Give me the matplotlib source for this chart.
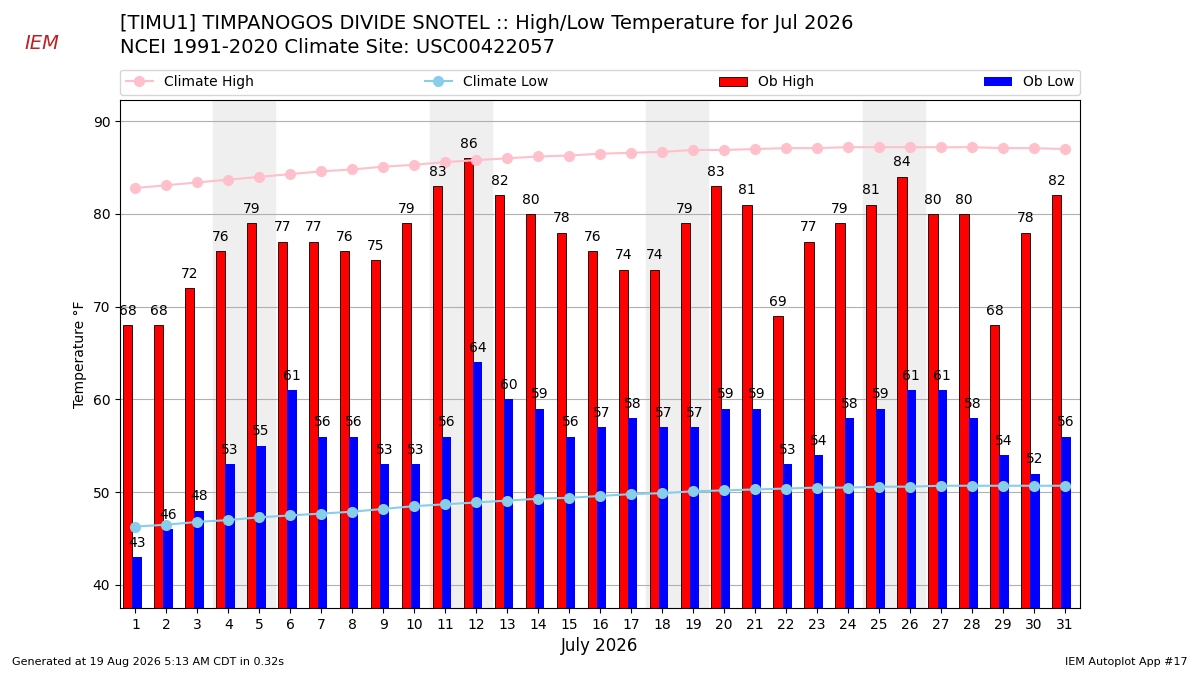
import matplotlib
matplotlib.use("Agg")
import matplotlib.pyplot as plt
import numpy as np

days = np.arange(1, 32)
ob_high = [68, 68, 72, 76, 79, 77, 77, 76, 75, 79, 83, 86, 82, 80, 78, 76, 74, 74, 79, 83, 81, 69, 77, 79, 81, 84, 80, 80, 68, 78, 82]
ob_low = [43, 46, 48, 53, 55, 61, 56, 56, 53, 53, 56, 64, 60, 59, 56, 57, 58, 57, 57, 59, 59, 53, 54, 58, 59, 61, 61, 58, 54, 52, 56]
clim_high = [82.8, 83.1, 83.4, 83.7, 84.0, 84.3, 84.6, 84.8, 85.1, 85.3, 85.6, 85.8, 86.0, 86.2, 86.3, 86.5,
             86.6, 86.7, 86.9, 86.9, 87.0, 87.1, 87.1, 87.2, 87.2, 87.2, 87.2, 87.2, 87.1, 87.1, 87.0]
clim_low = [46.3, 46.5, 46.8, 47.0, 47.3, 47.5, 47.7, 47.9, 48.2, 48.5, 48.7, 48.9, 49.1, 49.3, 49.4, 49.6,
            49.8, 49.9, 50.1, 50.2, 50.3, 50.4, 50.5, 50.5, 50.6, 50.6, 50.7, 50.7, 50.7, 50.7, 50.7]
weekends = [4, 11, 18, 25]

fig = plt.figure(figsize=(12, 6.75), dpi=100)
ax = fig.add_axes([0.1, 0.099, 0.8, 0.753])

for w in weekends:
    ax.axvspan(w - 0.5, w + 1.5, color="#efefef", zorder=0)

ax.bar(days - 0.4, ob_high, width=0.3, align="edge", color="red", edgecolor="black", linewidth=0.6, label="Ob High", zorder=2)
ax.bar(days - 0.1, ob_low, width=0.3, align="edge", color="blue", label="Ob Low", zorder=2)
for d, h, l in zip(days, ob_high, ob_low):
    ax.text(d - 0.25, h + 0.8, str(h), ha="center", va="bottom", fontsize=10, zorder=4)
    ax.text(d + 0.05, l + 0.8, str(l), ha="center", va="bottom", fontsize=10, zorder=4)

ax.plot(days, clim_high, "-o", color="pink", lw=1.5, ms=7, label="Climate High", zorder=3)
ax.plot(days, clim_low, "-o", color="skyblue", lw=1.5, ms=7, label="Climate Low", zorder=3)

ax.set_xlim(0.5, 31.5)
ax.set_ylim(37.5, 92.3)
ax.set_xticks(days)
ax.set_yticks([40, 50, 60, 70, 80, 90])
ax.yaxis.grid(True, color="#b0b0b0", zorder=1)
ax.set_axisbelow(True)
ax.set_ylabel("Temperature °F")
ax.set_xlabel("July 2026", fontsize=12)

h, lab = ax.get_legend_handles_labels()
order = [lab.index(n) for n in ["Climate High", "Climate Low", "Ob High", "Ob Low"]]
ax.legend([h[i] for i in order], [lab[i] for i in order], loc="lower left",
          bbox_to_anchor=(0, 1.01, 1, 0.06), mode="expand", ncol=4, fontsize=10, borderaxespad=0)

fig.text(0.1, 0.965, "[TIMU1] TIMPANOGOS DIVIDE SNOTEL :: High/Low Temperature for Jul 2026", fontsize=14, va="center")
fig.text(0.1, 0.93, "NCEI 1991-2020 Climate Site: USC00422057", fontsize=14, va="center")
fig.text(0.01, 0.015, "Generated at 19 Aug 2026 5:13 AM CDT in 0.32s", fontsize=8)
fig.text(0.99, 0.015, "IEM Autoplot App #17", fontsize=8, ha="right")
fig.text(0.035, 0.935, "IEM", fontsize=14, color="#c02020", style="italic", ha="center", va="center")

fig.savefig("out.png")
